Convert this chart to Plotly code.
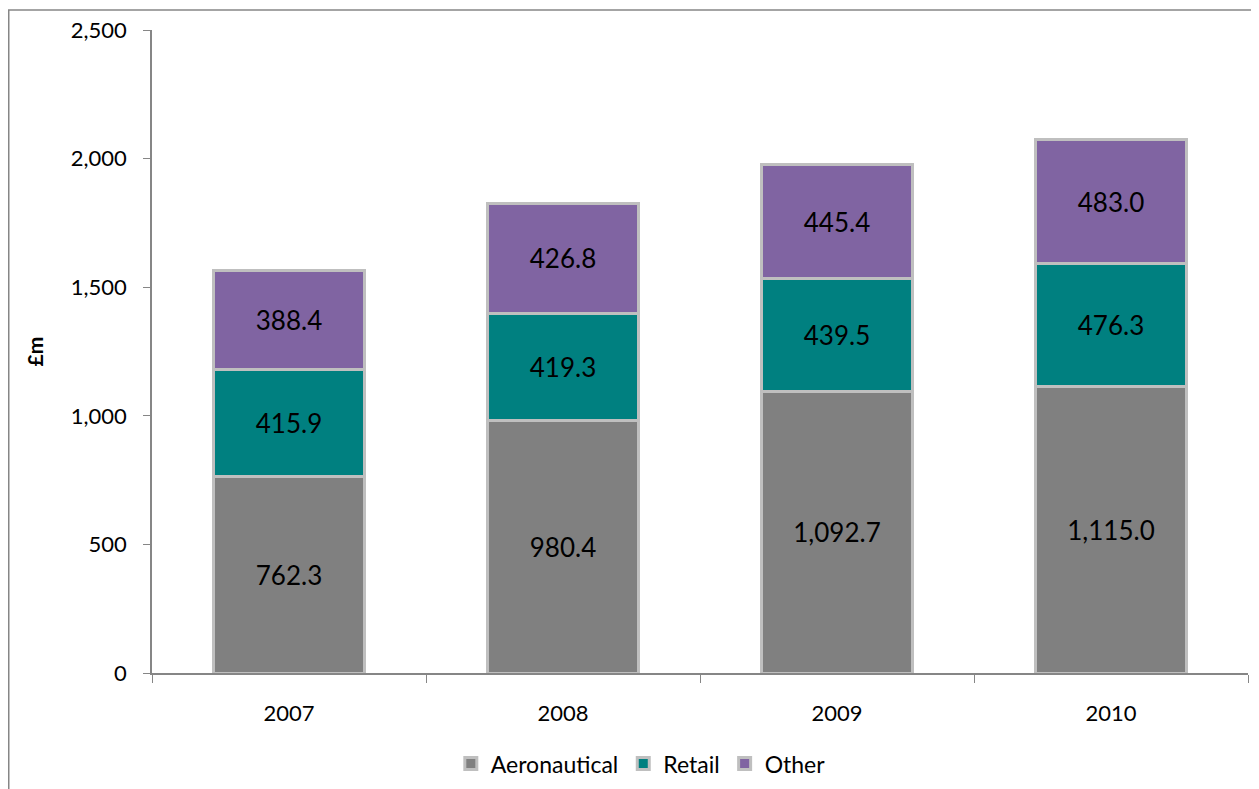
import plotly.graph_objects as go

years = ["2007", "2008", "2009", "2010"]
aeronautical = [762.3, 980.4, 1092.7, 1115.0]
retail = [415.9, 419.3, 439.5, 476.3]
other = [388.4, 426.8, 445.4, 483.0]

series = [
    ("Aeronautical", aeronautical, "#808080"),
    ("Retail", retail, "#008080"),
    ("Other", other, "#8064a2"),
]

FONT = "Lato"
fig = go.Figure()
for name, vals, col in series:
    fig.add_trace(go.Bar(
        x=years, y=vals, name=name,
        marker=dict(color=col, line=dict(color="#bfbfbf", width=3)),
        width=0.55,
        texttemplate="%{y:,.1f}", textposition="inside", insidetextanchor="middle",
        textfont=dict(family=FONT, size=26, color="black"),
        textangle=0,
    ))

fig.update_layout(
    barmode="stack",
    width=1251, height=781,
    margin=dict(l=144, r=11, t=22, b=116, autoexpand=False),
    plot_bgcolor="white", paper_bgcolor="white",
    font=dict(family=FONT, size=22, color="black"),
    showlegend=True,
    legend=dict(orientation="h", x=0.446, xanchor="center",
                y=-0.141, yanchor="middle", font=dict(size=23), traceorder="normal"),
    uniformtext=dict(mode="show", minsize=10),
)
fig.update_xaxes(
    showline=True, linecolor="#868686", linewidth=1.5,
    ticks="outside", tickson="boundaries", ticklen=8, tickcolor="#868686",
    tickfont=dict(size=22), ticklabelstandoff=20, automargin=False,
)
fig.update_yaxes(
    range=[0, 2500], dtick=500, tickformat=",",
    showline=True, linecolor="#868686", linewidth=1.5,
    ticks="outside", ticklen=7, tickcolor="#868686",
    showgrid=False, zeroline=False, automargin=False,
    tickfont=dict(size=22), ticklabelstandoff=12,
)
fig.add_annotation(text="<b>£m</b>", xref="paper", yref="paper",
                   x=-0.1068, y=0.5, xanchor="center", yanchor="middle",
                   textangle=-90, showarrow=False,
                   font=dict(size=21, family=FONT))
fig.add_shape(type="rect", xref="paper", yref="paper",
              x0=-0.1307, x1=1.05, y0=-0.3, y1=1.0311,
              line=dict(color="#868686", width=1.5), fillcolor="rgba(0,0,0,0)")
fig.write_html("out.html")
